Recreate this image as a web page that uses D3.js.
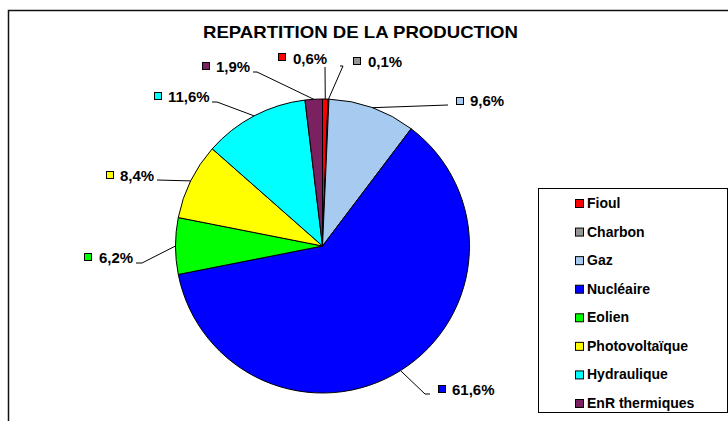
<!DOCTYPE html>
<html>
<head>
<meta charset="utf-8">
<script src="https://cdn.jsdelivr.net/npm/d3@7"></script>
<style>
  html, body { margin: 0; padding: 0; background: #fff; }
  svg { display: block; font-family: "Liberation Sans", Arial, sans-serif; }
</style>
</head>
<body>
<svg id="chart" width="728" height="421"></svg>
<script>
// Data
const categories = ['Fioul', 'Charbon', 'Gaz', 'Nucléaire', 'Eolien', 'Photovoltaïque', 'Hydraulique', 'EnR thermiques'];
const shares = [0.6, 0.1, 9.6, 61.6, 6.2, 8.4, 11.6, 1.9];
const colors = ['#ff0000', '#969696', '#a6caf0', '#0000ff', '#00ff00', '#ffff00', '#00ffff', '#7b2060'];
const title = 'REPARTITION DE LA PRODUCTION';

// Layout for the outside labels (swatch, text, leader line after the pie edge)
const labelLayout = [
    { sx: 278, sy: 53, tx: 293, ty: 64, line: [[325, 67]] },
    { sx: 353, sy: 57, tx: 368, ty: 67, line: [[343, 66], [340, 66]] },
    { sx: 456, sy: 97, tx: 470, ty: 106, line: [[448, 105]] },
    { sx: 438, sy: 385, tx: 452, ty: 395, line: [[425, 394], [430, 394]] },
    { sx: 84, sy: 253, tx: 99, ty: 263, line: [[142, 263], [136, 263]] },
    { sx: 106, sy: 171, tx: 120, ty: 181, line: [[157, 180]] },
    { sx: 154, sy: 92, tx: 168, ty: 102, line: [[217, 102], [212, 102]] },
    { sx: 202, sy: 62, tx: 216, ty: 72, line: [[257, 72], [253, 72]] }
];

const svg = d3.select('#chart');

// Outer frame (partly cut by the window)
svg.append('path')
    .attr('d', 'M8.5,421 V10.5 H728')
    .attr('fill', 'none')
    .attr('stroke', '#111')
    .attr('stroke-width', 1.5);

svg.append('text')
    .attr('x', 360.5)
    .attr('y', 38)
    .attr('text-anchor', 'middle')
    .attr('textLength', 315)
    .attr('lengthAdjust', 'spacingAndGlyphs')
    .style('font-size', '17px')
    .style('font-weight', 'bold')
    .text(title);

// Pie
const cx = 322.5, cy = 246, radius = 147;
const data = categories.map((c, i) => ({ name: c, value: shares[i], color: colors[i], layout: labelLayout[i] }));

const pie = d3.pie().sort(null).value(d => d.value).startAngle(0).endAngle(2 * Math.PI);
const arc = d3.arc().innerRadius(0).outerRadius(radius);
const edge = d3.arc().innerRadius(radius).outerRadius(radius);
const arcs = pie(data);

const g = svg.append('g').attr('transform', `translate(${cx},${cy})`);

g.selectAll('path.slice')
    .data(arcs)
    .enter().append('path')
    .attr('class', 'slice')
    .attr('d', arc)
    .attr('fill', d => d.data.color)
    .attr('stroke', '#000')
    .attr('stroke-width', 1);

// Leader lines
const fmt = v => v.toFixed(1).replace('.', ',') + '%';
svg.selectAll('polyline.leader')
    .data(arcs)
    .enter().append('polyline')
    .attr('class', 'leader')
    .attr('points', d => {
        const p = edge.centroid(d);
        const pts = [[cx + p[0], cy + p[1]]].concat(d.data.layout.line);
        return pts.map(q => q.join(',')).join(' ');
    })
    .attr('fill', 'none')
    .attr('stroke', '#000')
    .attr('stroke-width', 1);

// Labels
const labels = svg.selectAll('g.label')
    .data(arcs)
    .enter().append('g')
    .attr('class', 'label');

labels.append('rect')
    .attr('x', d => d.data.layout.sx + 0.5)
    .attr('y', d => d.data.layout.sy + 0.5)
    .attr('width', 7)
    .attr('height', 7)
    .attr('fill', d => d.data.color)
    .attr('stroke', '#000')
    .attr('stroke-width', 1);

labels.append('text')
    .attr('x', d => d.data.layout.tx)
    .attr('y', d => d.data.layout.ty)
    .style('font-size', '15px')
    .style('font-weight', 'bold')
    .text(d => fmt(d.data.value));

// Legend
const legend = svg.append('g');
legend.append('rect')
    .attr('x', 538.5)
    .attr('y', 188.5)
    .attr('width', 189)
    .attr('height', 224)
    .attr('fill', '#fff')
    .attr('stroke', '#000')
    .attr('stroke-width', 1);

const ly = d3.scalePoint().domain(categories).range([208, 408]);

const items = legend.selectAll('g.item')
    .data(data)
    .enter().append('g')
    .attr('class', 'item')
    .attr('transform', d => `translate(0,${ly(d.name)})`);

items.append('rect')
    .attr('x', 575.5)
    .attr('y', -8.5)
    .attr('width', 8)
    .attr('height', 8)
    .attr('fill', d => d.color)
    .attr('stroke', '#000')
    .attr('stroke-width', 1);

items.append('text')
    .attr('x', 587)
    .attr('y', 0)
    .style('font-size', '14px')
    .style('font-weight', 'bold')
    .text(d => d.name);
</script>
</body>
</html>
